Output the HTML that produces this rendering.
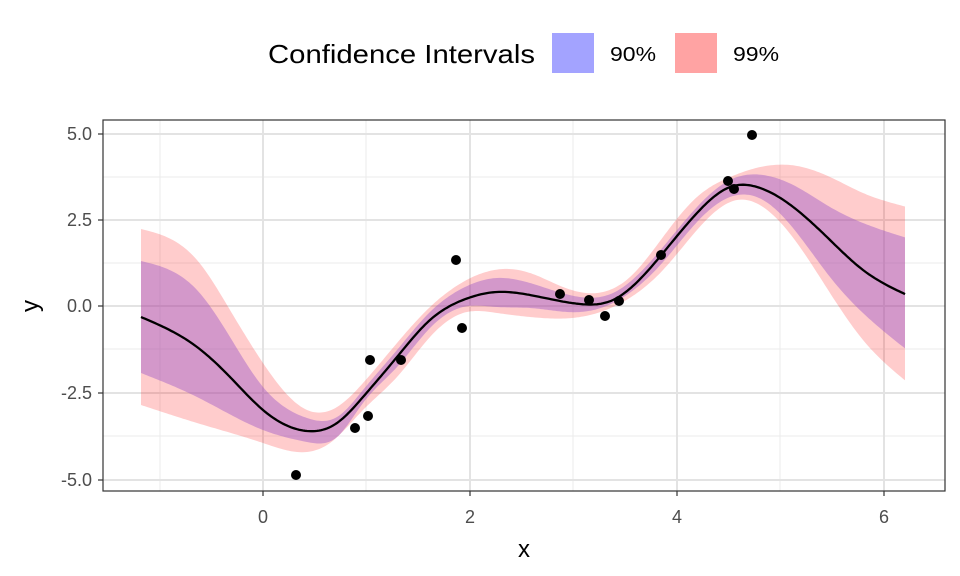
<!DOCTYPE html><html><head><style>body{margin:0;background:#fff}svg{display:block;font-family:"Liberation Sans",sans-serif}</style></head><body>
<svg id="s" width="960" height="576" xmlns="http://www.w3.org/2000/svg">
<rect width="960" height="576" fill="#fff"/>
<g stroke="#ebebeb" stroke-width="1">
<line x1="103" x2="945" y1="177" y2="177"/><line x1="103" x2="945" y1="263" y2="263"/><line x1="103" x2="945" y1="349" y2="349"/><line x1="103" x2="945" y1="436" y2="436"/>
<line y1="120" y2="491" x1="160" x2="160"/><line y1="120" y2="491" x1="366" x2="366"/><line y1="120" y2="491" x1="573" x2="573"/><line y1="120" y2="491" x1="780" x2="780"/>
</g>
<g stroke="#e3e3e3" stroke-width="2">
<line x1="103" x2="945" y1="134" y2="134"/><line x1="103" x2="945" y1="220" y2="220"/><line x1="103" x2="945" y1="306" y2="306"/><line x1="103" x2="945" y1="393" y2="393"/><line x1="103" x2="945" y1="480" y2="480"/>
<line y1="120" y2="491" x1="263" x2="263"/><line y1="120" y2="491" x1="470" x2="470"/><line y1="120" y2="491" x1="677" x2="677"/><line y1="120" y2="491" x1="884" x2="884"/>
</g>
<path id="b99" fill="rgba(255,0,0,0.2)"/>
<path id="b90" fill="rgba(150,80,200,0.42)"/>
<path id="m" fill="none" stroke="#000" stroke-width="2.3"/>
<g fill="#000">
<circle cx="296" cy="475" r="5"/><circle cx="355" cy="428" r="5"/><circle cx="368" cy="416" r="5"/><circle cx="370" cy="360" r="5"/><circle cx="401" cy="360" r="5"/><circle cx="456" cy="260" r="5"/><circle cx="462" cy="328" r="5"/><circle cx="560" cy="294" r="5"/><circle cx="589" cy="300" r="5"/><circle cx="605" cy="316" r="5"/><circle cx="619" cy="301" r="5"/><circle cx="661" cy="255" r="5"/><circle cx="728" cy="181" r="5"/><circle cx="734" cy="189" r="5"/><circle cx="752" cy="135" r="5"/>
</g>
<rect x="103" y="120" width="842" height="371" fill="none" stroke="#333" stroke-width="1.2"/>
<g stroke="#333" stroke-width="1.2">
<line x1="98" x2="103" y1="134" y2="134"/><line x1="98" x2="103" y1="220" y2="220"/><line x1="98" x2="103" y1="306" y2="306"/><line x1="98" x2="103" y1="393" y2="393"/><line x1="98" x2="103" y1="480" y2="480"/>
<line y1="491" y2="496" x1="263" x2="263"/><line y1="491" y2="496" x1="470" x2="470"/><line y1="491" y2="496" x1="677" x2="677"/><line y1="491" y2="496" x1="884" x2="884"/>
</g>
<g fill="#4d4d4d" font-size="18" text-anchor="end">
<text x="92" y="140">5.0</text><text x="92" y="226">2.5</text><text x="92" y="312">0.0</text><text x="92" y="399">-2.5</text><text x="92" y="486">-5.0</text>
</g>
<g fill="#4d4d4d" font-size="18" text-anchor="middle">
<text x="263" y="523">0</text><text x="470" y="523">2</text><text x="677" y="523">4</text><text x="884" y="523">6</text>
</g>
<text x="524" y="557" font-size="24" text-anchor="middle">x</text>
<text x="40" y="306" font-size="24" text-anchor="middle" transform="rotate(-90 40 306)" dy="-2">y</text>
<text x="268" y="63" font-size="26" textLength="267" lengthAdjust="spacingAndGlyphs">Confidence Intervals</text>
<rect x="552" y="33" width="42" height="40" fill="#a3a3ff"/>
<rect x="675" y="33" width="42" height="40" fill="#ffa3a3"/>
<text x="610" y="61" font-size="20" textLength="46" lengthAdjust="spacingAndGlyphs">90%</text>
<text x="733" y="61" font-size="20" textLength="46" lengthAdjust="spacingAndGlyphs">99%</text>
</svg>
<script>
var M=[[141,317],[197,347],[230,377],[263,410],[307,431],[337,423],[363,397],[397,357],[430,320],[463,300],[497,292],[530,295],[580,304],[613,300],[663,253],[697,213],[730,187],[757,187],[797,210],[830,240],[863,270],[907,295]];
var U99=[[141,229],[197,260],[230,310],[263,363],[307,410],[337,407],[363,383],[397,343],[430,307],[463,282],[503,269],[530,273],[563,287],[597,293],[630,277],[663,237],[697,197],[730,177],[790,165],[830,177],[863,193],[907,207]];
var L99=[[141,405],[197,423],[263,443],[297,452],[330,443],[363,410],[397,377],[430,337],[463,313],[497,313],[530,317],[580,317],[613,307],[663,270],[697,230],[737,200],[763,207],[797,243],[830,293],[863,340],[907,382]];
var U90=[[141,261],[197,290],[230,337],[263,387],[307,418],[337,417],[363,390],[397,350],[430,312],[463,288],[497,278],[530,283],[580,297],[613,293],[663,247],[697,207],[730,180],[763,175],[797,187],[830,207],[863,223],[907,238]];
var L90=[[141,373],[197,397],[263,430],[307,442],[337,437],[363,403],[397,367],[430,328],[463,307],[497,307],[530,308],[580,312],[613,303],[663,262],[697,222],[730,197],[763,200],[797,233],[830,277],[863,313],[907,350]];
function spline(P){var n=P.length,x=P.map(p=>p[0]),y=P.map(p=>p[1]),h=[],a=[],l=[1],mu=[0],z=[0],c=new Array(n).fill(0),b=[],d=[];
for(var i=0;i<n-1;i++)h[i]=x[i+1]-x[i];
for(i=1;i<n-1;i++)a[i]=3/h[i]*(y[i+1]-y[i])-3/h[i-1]*(y[i]-y[i-1]);
for(i=1;i<n-1;i++){l[i]=2*(x[i+1]-x[i-1])-h[i-1]*mu[i-1];mu[i]=h[i]/l[i];z[i]=(a[i]-h[i-1]*z[i-1])/l[i];}
for(i=n-2;i>=0;i--){c[i]=(i>0?z[i]:0)-mu[i]*c[i+1];b[i]=(y[i+1]-y[i])/h[i]-h[i]*(c[i+1]+2*c[i])/3;d[i]=(c[i+1]-c[i])/(3*h[i]);}
return function(t){var j=0;while(j<n-2&&x[j+1]<t)j++;var dx=t-x[j];return y[j]+b[j]*dx+c[j]*dx*dx+d[j]*dx*dx*dx;};}
var xs=[];for(var x=141;x<=906;x+=2)xs.push(x);
function band(U,L){var fu=spline(U),fl=spline(L),u=[],l=[];xs.forEach(function(x){u.push(x+","+fu(x).toFixed(1));l.unshift(x+","+fl(x).toFixed(1));});return "M"+u.join("L")+"L"+l.join("L")+"Z";}
var fm=spline(M);
document.getElementById("b99").setAttribute("d",band(U99,L99));
document.getElementById("b90").setAttribute("d",band(U90,L90));
document.getElementById("m").setAttribute("d","M"+xs.map(function(x){return x+","+fm(x).toFixed(1)}).join("L"));
</script>
</body></html>
